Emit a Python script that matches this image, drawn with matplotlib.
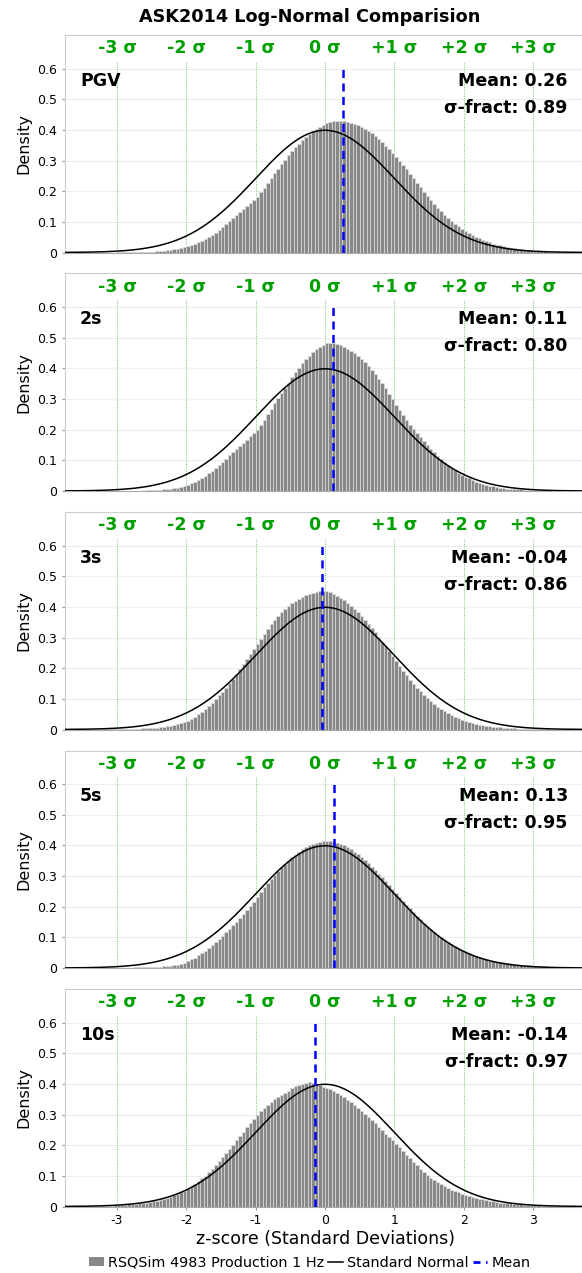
import numpy as np
import matplotlib
matplotlib.use('Agg')
import matplotlib.pyplot as plt
from matplotlib.patches import Patch
from matplotlib.lines import Line2D

# histogram densities, bins of 0.05 from -3.5 to 3.5
bin_lo = -3.5
bin_w = 0.05

pgv = [0, 0, 0, 0, 0, 0, 0, 0, 0, 0,
       0.001, 0.001, 0.001, 0.001, 0.001, 0.002, 0.002, 0.002, 0.002, 0.003,
       0.003, 0.004, 0.005, 0.006, 0.007, 0.009, 0.010, 0.012, 0.014, 0.017,
       0.020, 0.024, 0.028, 0.033, 0.038, 0.043, 0.049, 0.056, 0.063, 0.072,
       0.082, 0.092, 0.102, 0.112, 0.122, 0.132, 0.142, 0.152, 0.161, 0.170,
       0.180, 0.196, 0.212, 0.228, 0.244, 0.259, 0.274, 0.289, 0.303, 0.317,
       0.330, 0.343, 0.355, 0.366, 0.377, 0.387, 0.396, 0.404, 0.411, 0.417,
       0.423, 0.426, 0.428, 0.429, 0.429, 0.428, 0.426, 0.423, 0.420, 0.416,
       0.411, 0.404, 0.397, 0.389, 0.380, 0.370, 0.360, 0.349, 0.338, 0.326,
       0.313, 0.300, 0.286, 0.272, 0.257, 0.242, 0.228, 0.213, 0.199, 0.185,
       0.171, 0.158, 0.146, 0.134, 0.123, 0.112, 0.102, 0.093, 0.085, 0.078,
       0.071, 0.064, 0.058, 0.052, 0.047, 0.042, 0.037, 0.033, 0.029, 0.026,
       0.023, 0.020, 0.018, 0.016, 0.014, 0.012, 0.010, 0.009, 0.008, 0.007,
       0.006, 0.005, 0.004, 0.004, 0.003, 0.003, 0.002, 0.002, 0.002, 0.001]

s2 = [0, 0, 0, 0, 0, 0, 0, 0, 0, 0,
      0, 0, 0, 0, 0.001, 0.001, 0.001, 0.001, 0.002, 0.002,
      0.002, 0.003, 0.004, 0.005, 0.006, 0.007, 0.009, 0.011, 0.013, 0.016,
      0.020, 0.025, 0.030, 0.036, 0.043, 0.050, 0.058, 0.066, 0.075, 0.084,
      0.095, 0.106, 0.117, 0.128, 0.138, 0.148, 0.158, 0.168, 0.178, 0.189,
      0.200, 0.216, 0.233, 0.250, 0.268, 0.286, 0.304, 0.321, 0.337, 0.352,
      0.372, 0.388, 0.403, 0.417, 0.430, 0.442, 0.453, 0.463, 0.471, 0.478,
      0.482, 0.484, 0.483, 0.480, 0.476, 0.471, 0.465, 0.458, 0.450, 0.441,
      0.431, 0.420, 0.408, 0.395, 0.381, 0.366, 0.351, 0.335, 0.318, 0.300,
      0.282, 0.265, 0.248, 0.232, 0.217, 0.202, 0.188, 0.175, 0.162, 0.150,
      0.138, 0.126, 0.115, 0.104, 0.094, 0.085, 0.076, 0.068, 0.060, 0.053,
      0.047, 0.041, 0.036, 0.031, 0.027, 0.023, 0.020, 0.017, 0.015, 0.013,
      0.011, 0.010, 0.008, 0.007, 0.006, 0.005, 0.005, 0.004, 0.003, 0.003,
      0.002, 0.002, 0.002, 0.001, 0.001, 0.001, 0.001, 0.001, 0, 0]

s3 = [0, 0, 0, 0, 0, 0, 0.001, 0.001, 0.001, 0.001,
      0.001, 0.001, 0.002, 0.002, 0.002, 0.003, 0.003, 0.004, 0.004, 0.005,
      0.005, 0.006, 0.007, 0.008, 0.010, 0.012, 0.014, 0.017, 0.020, 0.023,
      0.028, 0.034, 0.041, 0.049, 0.058, 0.067, 0.077, 0.088, 0.100, 0.112,
      0.124, 0.137, 0.151, 0.166, 0.181, 0.197, 0.213, 0.229, 0.246, 0.263,
      0.280, 0.297, 0.313, 0.328, 0.343, 0.357, 0.370, 0.382, 0.393, 0.403,
      0.412, 0.420, 0.427, 0.433, 0.438, 0.442, 0.446, 0.449, 0.451, 0.452,
      0.451, 0.448, 0.443, 0.437, 0.430, 0.422, 0.413, 0.404, 0.394, 0.383,
      0.371, 0.358, 0.345, 0.331, 0.317, 0.302, 0.287, 0.271, 0.255, 0.239,
      0.223, 0.207, 0.192, 0.177, 0.163, 0.150, 0.137, 0.125, 0.114, 0.103,
      0.093, 0.084, 0.075, 0.067, 0.060, 0.053, 0.047, 0.041, 0.036, 0.031,
      0.027, 0.024, 0.021, 0.018, 0.016, 0.014, 0.012, 0.010, 0.009, 0.008,
      0.007, 0.006, 0.005, 0.004, 0.004, 0.003, 0.003, 0.002, 0.002, 0.002,
      0.001, 0.001, 0.001, 0.001, 0.001, 0, 0, 0, 0, 0]

s5 = [0, 0, 0, 0, 0, 0, 0, 0, 0, 0.001,
      0.001, 0.001, 0.001, 0.001, 0.001, 0.002, 0.002, 0.002, 0.002, 0.003,
      0.003, 0.004, 0.004, 0.005, 0.006, 0.007, 0.009, 0.011, 0.013, 0.015,
      0.023, 0.028, 0.034, 0.041, 0.049, 0.057, 0.066, 0.075, 0.085, 0.095,
      0.105, 0.116, 0.127, 0.139, 0.151, 0.163, 0.176, 0.189, 0.203, 0.217,
      0.233, 0.248, 0.263, 0.277, 0.291, 0.304, 0.317, 0.329, 0.340, 0.351,
      0.361, 0.370, 0.379, 0.387, 0.394, 0.400, 0.405, 0.409, 0.412, 0.414,
      0.415, 0.414, 0.412, 0.409, 0.405, 0.400, 0.394, 0.387, 0.379, 0.371,
      0.362, 0.352, 0.342, 0.331, 0.320, 0.308, 0.296, 0.284, 0.272, 0.259,
      0.246, 0.233, 0.220, 0.207, 0.195, 0.183, 0.171, 0.159, 0.148, 0.137,
      0.127, 0.118, 0.109, 0.100, 0.092, 0.085, 0.078, 0.071, 0.065, 0.059,
      0.054, 0.049, 0.044, 0.040, 0.036, 0.032, 0.029, 0.026, 0.023, 0.021,
      0.019, 0.018, 0.016, 0.015, 0.013, 0.012, 0.011, 0.010, 0.009, 0.008,
      0.007, 0.006, 0.005, 0.005, 0.004, 0.003, 0.003, 0.002, 0.002, 0.002]

s10 = [0.001, 0.001, 0.001, 0.001, 0.002, 0.002, 0.002, 0.003, 0.003, 0.004,
       0.004, 0.005, 0.006, 0.007, 0.008, 0.009, 0.010, 0.012, 0.013, 0.015,
       0.017, 0.019, 0.022, 0.025, 0.028, 0.032, 0.036, 0.041, 0.046, 0.052,
       0.060, 0.067, 0.075, 0.083, 0.092, 0.101, 0.111, 0.122, 0.134, 0.147,
       0.160, 0.174, 0.188, 0.202, 0.216, 0.230, 0.244, 0.258, 0.272, 0.286,
       0.299, 0.311, 0.322, 0.332, 0.341, 0.350, 0.358, 0.365, 0.372, 0.378,
       0.386, 0.392, 0.397, 0.401, 0.404, 0.405, 0.403, 0.399, 0.395, 0.391,
       0.387, 0.382, 0.377, 0.371, 0.364, 0.357, 0.349, 0.341, 0.332, 0.323,
       0.313, 0.303, 0.293, 0.282, 0.271, 0.260, 0.249, 0.238, 0.227, 0.216,
       0.205, 0.193, 0.181, 0.169, 0.157, 0.145, 0.134, 0.123, 0.113, 0.103,
       0.094, 0.086, 0.079, 0.072, 0.066, 0.060, 0.055, 0.050, 0.046, 0.042,
       0.038, 0.035, 0.032, 0.029, 0.026, 0.023, 0.021, 0.019, 0.017, 0.015,
       0.013, 0.012, 0.011, 0.010, 0.009, 0.008, 0.007, 0.006, 0.005, 0.005,
       0.004, 0.004, 0.003, 0.003, 0.002, 0.002, 0.002, 0.001, 0.001, 0.001]

periods = ['PGV', '2s', '3s', '5s', '10s']
hists = [pgv, s2, s3, s5, s10]
means = [0.26, 0.11, -0.04, 0.13, -0.14]
sig_fracts = [0.89, 0.80, 0.86, 0.95, 0.97]
sigma_lines = [-3, -2, -1, 0, 1, 2, 3]
sigma_labels = ['-3 σ', '-2 σ', '-1 σ', '0 σ', '+1 σ', '+2 σ', '+3 σ']

W, H = 582, 1273
fig = plt.figure(figsize=(W / 100, H / 100), dpi=100)

green = '#00a000'
x_norm = np.linspace(-3.75, 3.75, 400)
y_norm = np.exp(-0.5 * x_norm ** 2) / np.sqrt(2 * np.pi)

for i in range(5):
    top = 35 + 238.5 * i
    bot = top + 217.5
    ax = fig.add_axes([65 / W, 1 - bot / H, 520 / W, 217.5 / H])
    h = np.array(hists[i])
    centers = bin_lo + bin_w * (np.arange(len(h)) + 0.5)
    ax.bar(centers, h, width=bin_w, color='#888888', edgecolor='#dddddd',
           linewidth=0.5, zorder=2)
    ax.plot(x_norm, y_norm, color='black', lw=1.1, zorder=4)
    for s, lab in zip(sigma_lines, sigma_labels):
        ax.plot([s, s], [0, 0.625], color='#44bb44', lw=0.6, ls=':', zorder=1)
        ax.text(s, 0.666, lab, color=green, fontsize=12.5, fontweight='bold',
                ha='center', va='center')
    ax.plot([means[i], means[i]], [0, 0.6], color='#0000ff', lw=1.8,
            dashes=(3.2, 2.2), zorder=5)
    ax.text(0.029, 0.56 / 0.71, periods[i], transform=ax.transAxes,
            fontsize=12.5, fontweight='bold', ha='left', va='center')
    ax.text(0.967, 0.56 / 0.71, 'Mean: %.2f' % means[i], transform=ax.transAxes,
            fontsize=12.5, fontweight='bold', ha='right', va='center')
    ax.text(0.967, 0.473 / 0.71, 'σ-fract: %.2f' % sig_fracts[i],
            transform=ax.transAxes, fontsize=12.5, fontweight='bold',
            ha='right', va='center')
    ax.set_xlim(-3.75, 3.75)
    ax.set_ylim(0, 0.71)
    ax.set_yticks([0, 0.1, 0.2, 0.3, 0.4, 0.5, 0.6])
    ax.set_yticklabels(['0', '0.1', '0.2', '0.3', '0.4', '0.5', '0.6'])
    ax.yaxis.grid(True, color='#eeeeee', lw=0.8, zorder=0)
    ax.set_axisbelow(True)
    ax.set_ylabel('Density', fontsize=11.5, labelpad=4)
    ax.tick_params(axis='y', labelsize=9, length=2, color='#999999')
    for sp in ax.spines.values():
        sp.set_color('#cccccc')
        sp.set_linewidth(0.8)
    ax.spines['right'].set_visible(False)
    ax.spines['bottom'].set_color('#aaaaaa')
    if i < 4:
        ax.set_xticks([])
    else:
        ax.set_xticks([-3, -2, -1, 0, 1, 2, 3])
        ax.set_xticklabels(['-3', '-2', '-1', '0', '1', '2', '3'])
        ax.tick_params(axis='x', labelsize=9, length=2, color='#999999')
        ax.set_xlabel('z-score (Standard Deviations)', fontsize=12.5,
                      labelpad=2)

fig.text(310 / W, 1 - 17 / H, 'ASK2014 Log-Normal Comparision', fontsize=12.7,
         fontweight='bold', ha='center', va='center')

handles = [Patch(facecolor='#888888', edgecolor='none'),
           Line2D([], [], color='black', lw=1.1),
           Line2D([], [], color='#0000ff', lw=2, dashes=(2.5, 2))]
fig.legend(handles, ['RSQSim 4983 Production 1 Hz', 'Standard Normal', 'Mean'],
           loc='center', bbox_to_anchor=(310 / W, 1 - 1263 / H), ncol=3,
           frameon=False, fontsize=10.4, handlelength=1.0, handletextpad=0.3,
           columnspacing=0.3, handleheight=0.6)

fig.savefig('out.png', dpi=100)
